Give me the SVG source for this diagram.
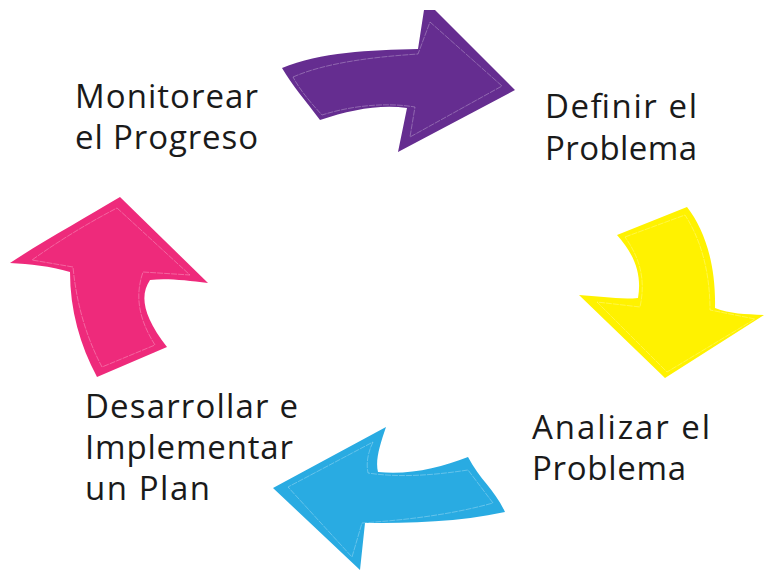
<svg xmlns="http://www.w3.org/2000/svg" width="764" height="571" viewBox="0 0 764 571">
<style>
.lbl{font-family:"Open Sans","Lato","Liberation Sans",sans-serif;font-size:33px;fill:#1a1a1a}
.inner{fill:none;stroke:#ffffff;stroke-opacity:0.4;stroke-width:0.7;stroke-dasharray:6 1}
</style>
<rect width="764" height="571" fill="#ffffff"/>
<g id="connectors">
<g id="arrow-purple">
<path d="M282,68 C320,52 370,50 418,49 L424,10 L435,10 L515,90 L398,152 L407,108 C380,104 350,110 320,120 C305,100 292,85 282,68 Z" fill="#652d90"/>
<path class="inner" d="M293,77 C325,63 372,57 418,54 L430,22 L502,86 L410,137 L415,107 C385,102 350,106 322,115 C310,102 300,90 293,77 Z"/>
</g>
<g id="arrow-yellow">
<path d="M617,235 L687,207 C705,230 716,265 715,308 C730,314 745,314 764,315 L665,378 L579,295 C600,296 620,300 638,298 C642,275 635,255 617,235 Z" fill="#fff200"/>
<path class="inner" d="M625,237 L685,215 C700,238 710,270 710,310 L755,319 L667,372 L597,302 L640,307 C646,280 640,258 625,237 Z"/>
</g>
<g id="arrow-blue">
<path d="M386,427 L273,488 L360,570 L365,523 C410,523 460,522 505,512 C495,490 480,480 468,457 C440,468 410,475 378,472 C375,460 380,445 386,427 Z" fill="#29abe2"/>
<path class="inner" d="M373,442 C368,452 366,463 368,473 C400,478 435,475 468,470 L493,503 C450,515 405,520 362,523 L352,557 L288,487 Z"/>
</g>
<g id="arrow-pink">
<path d="M120,197 L208,283 C185,280 165,278 150,280 C140,295 142,315 167,347 L97,377 C80,345 70,310 70,272 C50,266 30,264 10,263 C45,240 85,218 120,197 Z" fill="#ee2a7b"/>
<path class="inner" d="M117,208 L190,275 L143,272 C135,295 138,318 155,345 L102,367 C85,335 76,300 73,267 L32,260 C60,240 90,222 117,208 Z"/>
</g>
</g>
<g id="node-monitorear">
<text class="lbl" x="75" y="108" textLength="183">Monitorear</text>
<text class="lbl" x="75" y="149" textLength="183">el Progreso</text>
</g>
<g id="node-definir">
<text class="lbl" x="545" y="118" textLength="152">Definir el</text>
<text class="lbl" x="545" y="160" textLength="152">Problema</text>
</g>
<g id="node-analizar">
<text class="lbl" x="532" y="439" textLength="178">Analizar el</text>
<text class="lbl" x="532" y="480" textLength="154">Problema</text>
</g>
<g id="node-desarrollar">
<text class="lbl" x="85" y="418" textLength="213">Desarrollar e</text>
<text class="lbl" x="85" y="459" textLength="208">Implementar</text>
<text class="lbl" x="85" y="500" textLength="125">un Plan</text>
</g>
</svg>
